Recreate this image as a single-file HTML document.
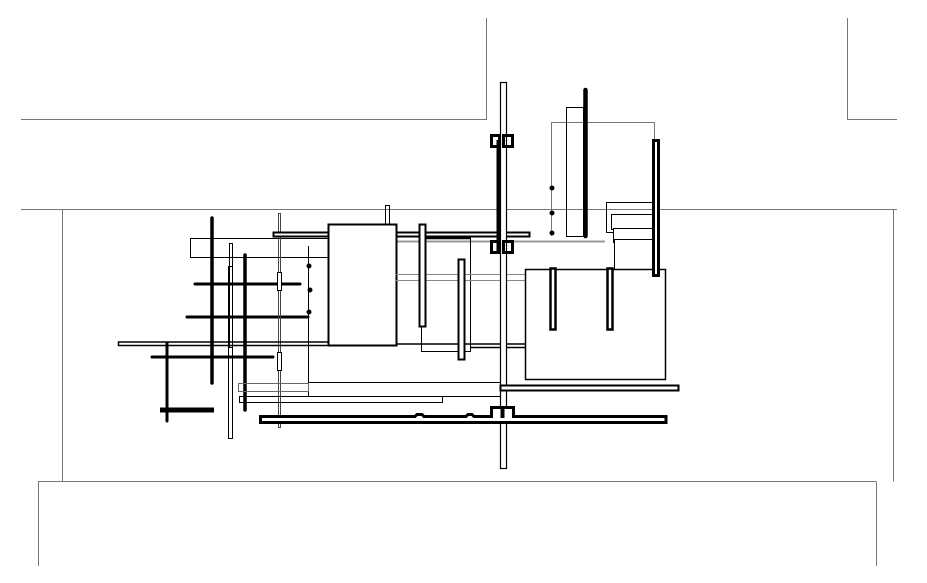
<!DOCTYPE html>
<html><head><meta charset="utf-8"><style>html,body{margin:0;padding:0;background:#fff}svg{display:block}</style></head>
<body>
<svg width="927" height="583" viewBox="0 0 927 583" xmlns="http://www.w3.org/2000/svg" fill="none" stroke="#000">
<g stroke="#777" stroke-width="1">
<path d="M21 119.5H486.5V18"/>
<path d="M847.5 18V119.5H897"/>
<path d="M21 209.5H897"/>
<path d="M62.5 209.5V481.5M893.5 209.5V481.5"/>
<path d="M38 481.5H876M38.5 481.5V566M876.5 481.5V566"/>
<path d="M551.5 236V122.5H654.5V140"/>
</g>
<rect x="190.5" y="238.5" width="138" height="19" stroke-width="1"/>
<g stroke-linecap="round">
<line x1="212" y1="218" x2="212" y2="383" stroke-width="3.5"/>
<line x1="245" y1="255" x2="245" y2="410" stroke-width="3.5"/>
<line x1="167" y1="343" x2="167" y2="421" stroke-width="3"/>
<line x1="195" y1="284" x2="300" y2="284" stroke-width="3"/>
<line x1="187" y1="317" x2="308" y2="317" stroke-width="3"/>
<line x1="152" y1="357" x2="273" y2="357" stroke-width="3"/>
</g>
<rect x="229.5" y="243.5" width="3" height="104" stroke-width="1"/>
<rect x="228.5" y="266.5" width="4" height="172" stroke-width="1"/>
<rect x="278.5" y="213.5" width="2" height="214" stroke-width="1" stroke="#444"/>
<rect x="277.5" y="272.5" width="4" height="18" stroke-width="1" fill="#fff"/>
<rect x="277.5" y="352.5" width="4" height="18" stroke-width="1" fill="#fff"/>
<rect x="118.5" y="342" width="210" height="3.5" stroke-width="1.5"/>
<line x1="328" y1="344" x2="525" y2="344" stroke-width="1.5"/>
<line x1="160" y1="410" x2="214" y2="410" stroke-width="5"/>
<line x1="308.5" y1="246" x2="308.5" y2="397" stroke-width="1"/>
<circle cx="309" cy="266" r="2" fill="#000"/><circle cx="310" cy="290" r="2" fill="#000"/><circle cx="309" cy="312" r="2" fill="#000"/>
<line x1="308" y1="382.5" x2="500" y2="382.5" stroke-width="1"/>
<line x1="308" y1="396.5" x2="500" y2="396.5" stroke-width="1"/>
<rect x="238.5" y="383.5" width="70" height="8" stroke-width="1" stroke="#666"/>
<rect x="239.5" y="396.5" width="203" height="6" stroke-width="1"/>
<rect x="385.5" y="205.5" width="4" height="28" stroke-width="1"/>
<rect x="273.5" y="232.5" width="256" height="4" stroke-width="2" fill="#fff"/>
<line x1="396" y1="241.5" x2="605" y2="241.5" stroke="#999" stroke-width="2"/>
<rect x="328.5" y="224.5" width="68" height="121" stroke-width="2" fill="#fff"/>
<rect x="421.5" y="237.5" width="49" height="114" stroke-width="1"/>
<line x1="421" y1="238" x2="470" y2="238" stroke-width="2.5"/>
<line x1="396" y1="274.5" x2="525" y2="274.5" stroke="#888"/>
<line x1="396" y1="280.5" x2="525" y2="280.5" stroke="#888"/>
<line x1="470" y1="347.5" x2="525" y2="347.5" stroke-width="1.5"/>
<rect x="419.5" y="224.5" width="6" height="102" stroke-width="2" fill="#fff"/>
<rect x="458.5" y="259.5" width="6" height="100" stroke-width="2" fill="#fff"/>
<rect x="500.5" y="82.5" width="6" height="386" stroke-width="1.2" fill="#fff"/>
<line x1="498.5" y1="140" x2="498.5" y2="252" stroke-width="4"/>
<rect x="491.5" y="135.5" width="8" height="11" stroke-width="3"/>
<rect x="503.5" y="135.5" width="9" height="11" stroke-width="3"/>
<rect x="491.5" y="241.5" width="8" height="11" stroke-width="3"/>
<rect x="503.5" y="241.5" width="9" height="11" stroke-width="3"/>
<rect x="566.5" y="107.5" width="17" height="129" stroke-width="1"/>
<line x1="585.5" y1="90" x2="585.5" y2="236" stroke-width="4.5" stroke-linecap="round"/>
<circle cx="552" cy="188" r="2" fill="#000"/><circle cx="552" cy="213" r="2" fill="#000"/><circle cx="552" cy="233" r="2" fill="#000"/>
<rect x="606.5" y="202.5" width="48" height="30" stroke-width="1"/>
<rect x="611.5" y="214.5" width="43" height="15" stroke-width="1" fill="#fff"/>
<rect x="613.5" y="228.5" width="41" height="14" stroke-width="1" fill="#fff"/>
<rect x="614.5" y="239.5" width="40" height="30" stroke-width="1" fill="#fff"/>
<rect x="525.5" y="269.5" width="140" height="110" stroke-width="1.5" fill="#fff"/>
<rect x="653.5" y="140.5" width="5" height="135" stroke-width="3" fill="#fff"/>
<rect x="550.5" y="268.5" width="5" height="61" stroke-width="2.5" fill="#fff"/>
<rect x="607.5" y="268.5" width="5" height="61" stroke-width="2.5" fill="#fff"/>
<rect x="500.5" y="385.5" width="178" height="5" stroke-width="2" fill="#fff"/>
<path d="M260.5 416.5H415l2 -2h5l2 2H466l2 -2h4l2 2H491.5V407.5H502V416.5H503V407.5H513.5V416.5H666V422.5H260.5Z" stroke-width="3" fill="#fff"/>
</svg>
</body></html>
